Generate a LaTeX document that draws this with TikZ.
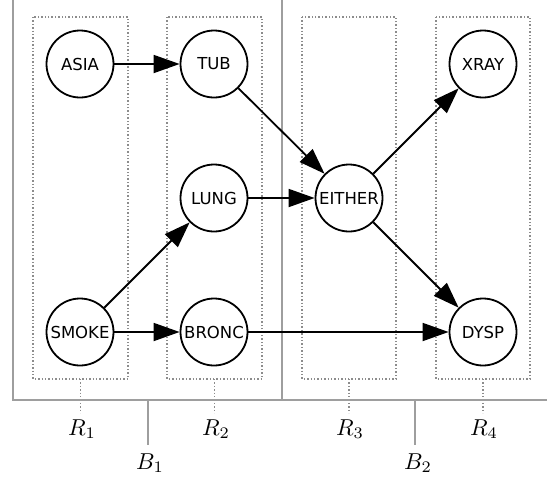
\documentclass[tikz,border=0pt]{standalone}
\usepackage{fontspec}
\newfontfamily\nodefont{DejaVu Sans}
\usetikzlibrary{arrows.meta}
\begin{document}
\begin{tikzpicture}[x=1pt,y=-1pt,
  var/.style={circle,draw,line width=1.8pt,minimum size=67pt,inner sep=0pt,font=\nodefont\fontsize{16.5}{19}\selectfont},
  edge/.style={line width=1.8pt,-{Triangle[length=26pt,width=18pt]}},
  frame/.style={draw=black!38,line width=1.8pt},
  region/.style={draw=black!45,line width=1.4pt,dotted},
  lab/.style={scale=2.3,inner sep=0pt}]
\useasboundingbox (0,0) rectangle (547,480);
% regions
\draw[region] (33,17) rectangle (128,379);
\draw[region] (167,17) rectangle (262,379);
\draw[region] (302,17) rectangle (396,379);
\draw[region] (436,17) rectangle (530,379);
\coordinate (r1) at (80.5,379); \coordinate (r1e) at (80.5,413);
\coordinate (r2) at (214.5,379); \coordinate (r2e) at (214.5,413);
\coordinate (r3) at (349,379); \coordinate (r3e) at (349,413);
\coordinate (r4) at (483,379); \coordinate (r4e) at (483,413);
\draw[region] (r1) -- (r1e);
\draw[region] (r2) -- (r2e);
\draw[region] (r3) -- (r3e);
\draw[region] (r4) -- (r4e);
\node[lab] (R1) at (82,429) {$R_1$};
\node[lab] (R2) at (216,429) {$R_2$};
\node[lab] (R3) at (350,429) {$R_3$};
\node[lab] (R4) at (484,429) {$R_4$};
% frame
\coordinate (ftl) at (13,0);
\coordinate (fbl) at (13,400);
\coordinate (fbr) at (547,400);
\coordinate (mt) at (282,0);
\coordinate (mb) at (282,400);
\draw[frame] (ftl) -- (fbl) -- (fbr);
\draw[frame] (mt) -- (mb);
\coordinate (b1) at (148,400); \coordinate (b1e) at (148,445);
\coordinate (b2) at (415,400); \coordinate (b2e) at (415,445);
\draw[frame] (b1) -- (b1e);
\draw[frame] (b2) -- (b2e);
\node[lab] (B1) at (150,463) {$B_1$};
\node[lab] (B2) at (418,463) {$B_2$};
% nodes
\node[var] (asia) at (80,64) {ASIA};
\node[var] (tub) at (214,64) {TUB};
\node[var] (lung) at (214,198) {LUNG};
\node[var] (smoke) at (80,332) {SMOKE};
\node[var] (bronc) at (214,332) {BRONC};
\node[var] (either) at (349,198) {EITHER};
\node[var] (xray) at (483,64) {XRAY};
\node[var] (dysp) at (483,332) {DYSP};
% edges
\draw[edge] (asia) -- (tub);
\draw[edge] (tub) -- (either);
\draw[edge] (lung) -- (either);
\draw[edge] (smoke) -- (lung);
\draw[edge] (smoke) -- (bronc);
\draw[edge] (bronc) -- (dysp);
\draw[edge] (either) -- (xray);
\draw[edge] (either) -- (dysp);
\end{tikzpicture}
\end{document}
